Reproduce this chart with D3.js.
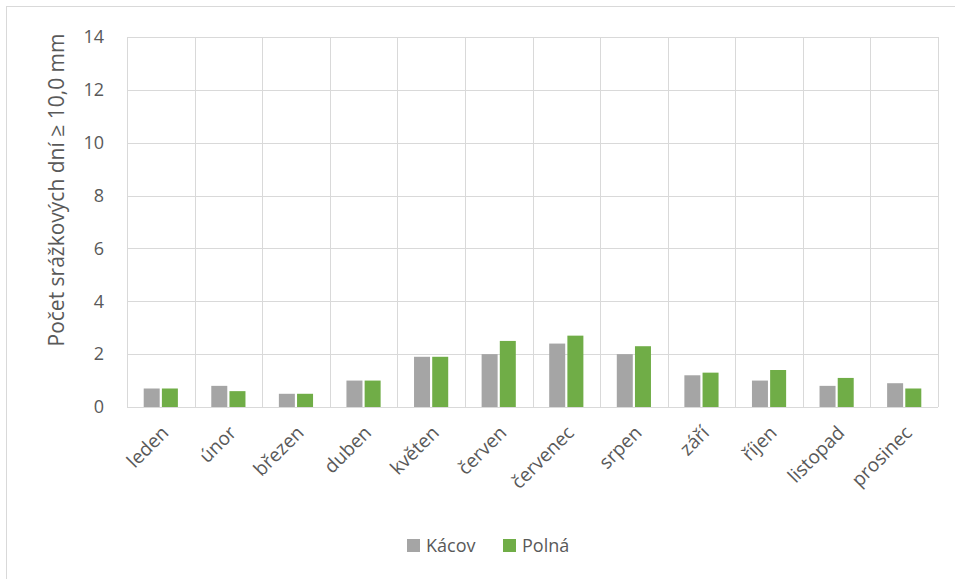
<!DOCTYPE html>
<html>
<head>
<meta charset="utf-8">
<script src="https://cdn.jsdelivr.net/npm/d3@7"></script>
<style>
  body { margin: 0; background: #fff; }
  svg { display: block; font-family: "Open Sans", sans-serif; }
</style>
</head>
<body>
<svg width="955" height="579"></svg>
<script>
// data
const months = ["leden","únor","březen","duben","květen","červen","červenec","srpen","září","říjen","listopad","prosinec"];
const seriesNames = ["Kácov","Polná"];
const kacov = [0.7,0.8,0.5,1.0,1.9,2.0,2.4,2.0,1.2,1.0,0.8,0.9];
const polna = [0.7,0.6,0.5,1.0,1.9,2.5,2.7,2.3,1.3,1.4,1.1,0.7];
const yTicks = [0,2,4,6,8,10,12,14];
const colors = ["#a5a5a5","#70ad47"];

var svg = d3.select("svg"),
    W = +svg.attr("width"),
    H = +svg.attr("height");

// chart frame (only top/left visible in the crop)
svg.append("rect")
   .attr("x",6.5).attr("y",6.5)
   .attr("width",W+10).attr("height",H+10)
   .attr("fill","#fff").attr("stroke","#d9d9d9").attr("stroke-width",1);

var m = {left:127, right:938, top:37, bottom:407};

var x = d3.scaleBand().domain(months).range([m.left,m.right]);
var y = d3.scaleLinear().domain([0,14]).range([m.bottom,m.top]);
var inner = d3.scaleBand().domain(seriesNames).range([16.7, x.bandwidth()-16.7]).paddingInner(0.12);

// horizontal grid
svg.append("g").selectAll("line")
   .data(yTicks).enter().append("line")
   .attr("x1",m.left).attr("x2",m.right)
   .attr("y1",d=>Math.round(y(d))+0.5).attr("y2",d=>Math.round(y(d))+0.5)
   .attr("stroke","#d9d9d9").attr("stroke-width",1);

// vertical grid (category boundaries)
var bounds = months.map(d=>x(d)).concat([m.right]);
svg.append("g").selectAll("line")
   .data(bounds).enter().append("line")
   .attr("x1",d=>Math.round(d)+0.5).attr("x2",d=>Math.round(d)+0.5)
   .attr("y1",m.top).attr("y2",m.bottom)
   .attr("stroke","#d9d9d9").attr("stroke-width",1);

// bars
var series = [kacov, polna];
series.forEach(function(vals,s){
  svg.append("g").selectAll("rect")
     .data(vals).enter().append("rect")
     .attr("x",(d,i)=>x(months[i])+inner(seriesNames[s]))
     .attr("width",inner.bandwidth())
     .attr("y",d=>y(d))
     .attr("height",d=>y(0)-y(d))
     .attr("fill",colors[s]);
});

// bottom axis line
svg.append("line")
   .attr("x1",m.left).attr("x2",m.right)
   .attr("y1",m.bottom+0.5).attr("y2",m.bottom+0.5)
   .attr("stroke","#d9d9d9").attr("stroke-width",1);

// y axis labels
var yAxis = d3.axisLeft(y).tickValues(yTicks).tickSize(0).tickPadding(0);
var ya = svg.append("g").attr("transform","translate(104,0)").call(yAxis);
ya.select(".domain").remove();
ya.selectAll("text").attr("fill","#595959").style("font-size","18px").style("font-family","Open Sans");

// x axis labels rotated
svg.append("g").selectAll("text")
   .data(months).enter().append("text")
   .attr("transform",d=>"translate("+(x(d)+x.bandwidth()/2+9)+","+(m.bottom+27)+") rotate(-45)")
   .attr("text-anchor","end")
   .attr("fill","#595959")
   .style("font-size","19px")
   .text(d=>d);

// y axis title
svg.append("text")
   .attr("transform","translate(64,190) rotate(-90)")
   .attr("text-anchor","middle")
   .attr("fill","#595959")
   .style("font-size","21px")
   .text("Počet srážkových dní ≥ 10,0 mm");

// legend
var leg = svg.append("g");
var legX = [407,503];
seriesNames.forEach(function(n,i){
  leg.append("rect").attr("x",legX[i]).attr("y",539).attr("width",13).attr("height",13).attr("fill",colors[i]);
  leg.append("text").attr("x",legX[i]+19).attr("y",552)
     .attr("fill","#595959").style("font-size","18px").text(n);
});
</script>
</body>
</html>
